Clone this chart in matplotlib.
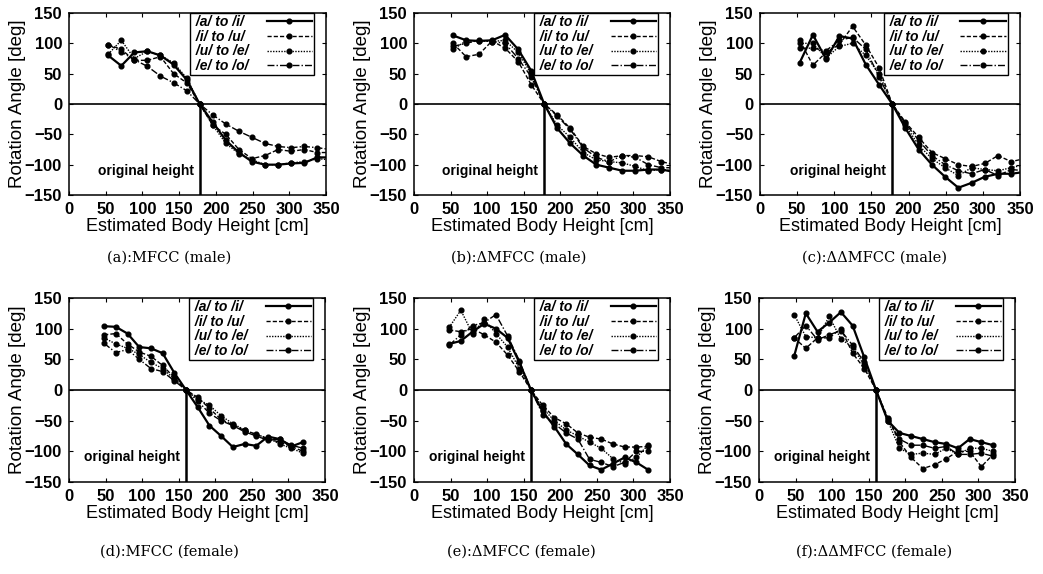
import matplotlib
matplotlib.use('Agg')
import matplotlib.pyplot as plt

# heights (cm) at which the rotation angle was evaluated
male_x = [53.4, 71.2, 89, 106.8, 124.6, 142.4, 160.2, 178, 195.8, 213.6,
          231.4, 249.2, 267, 284.8, 302.6, 320.4, 338.2, 356]
female_x = [48, 64, 80, 96, 112, 128, 144, 160, 176, 192,
            208, 224, 240, 256, 272, 288, 304, 320]
male_orig = 178
female_orig = 160

labels = ['/a/ to /i/', '/i/ to /u/', '/u/ to /e/', '/e/ to /o/']

# (a) MFCC male
a_ai = [80, 63, 85, 87, 80, 65, 40, 0, -30, -60, -80, -95, -100, -100, -98, -97, -88, -88]
a_iu = [98, 90, 72, 72, 78, 50, 35, 0, -35, -50, -75, -90, -85, -75, -78, -75, -80, -80]
a_ue = [82, 105, 75, 87, 80, 68, 43, 0, -35, -65, -82, -92, -100, -100, -97, -95, -90, -92]
a_eo = [98, 86, 73, 62, 46, 35, 22, 0, -18, -33, -45, -55, -65, -70, -72, -70, -72, -75]

# (b) delta MFCC male
b_ai = [113, 105, 104, 105, 114, 90, 55, 0, -40, -65, -85, -100, -105, -110, -110, -108, -108, -112]
b_iu = [100, 78, 82, 104, 92, 70, 32, 0, -18, -40, -70, -82, -88, -85, -85, -87, -95, -100]
b_ue = [90, 104, 104, 103, 105, 85, 50, 0, -35, -55, -80, -92, -95, -97, -103, -110, -108, -110]
b_eo = [95, 100, 105, 103, 100, 75, 45, 0, -20, -42, -72, -88, -95, -85, -88, -100, -105, -105]

# (c) delta-delta MFCC male
c_ai = [68, 114, 74, 112, 108, 65, 32, 0, -40, -75, -100, -120, -138, -130, -120, -115, -115, -112]
c_iu = [105, 64, 85, 98, 128, 97, 60, 0, -30, -55, -80, -90, -100, -103, -98, -85, -95, -90]
c_ue = [100, 100, 76, 95, 100, 80, 50, 0, -35, -68, -90, -105, -118, -105, -108, -110, -105, -100]
c_eo = [92, 92, 88, 105, 110, 90, 45, 0, -32, -60, -85, -100, -110, -115, -108, -118, -108, -110]

# (d) MFCC female
d_ai = [104, 103, 92, 70, 68, 60, 28, 0, -28, -58, -75, -93, -88, -91, -76, -80, -92, -85]
d_iu = [90, 92, 75, 62, 55, 40, 20, 0, -12, -30, -48, -57, -66, -72, -80, -85, -92, -100]
d_ue = [85, 75, 68, 58, 45, 35, 18, 0, -15, -25, -42, -55, -65, -73, -78, -88, -95, -103]
d_eo = [76, 61, 66, 50, 35, 30, 15, 0, -18, -38, -50, -58, -68, -75, -82, -80, -90, -95]

# (e) delta MFCC female
e_ai = [75, 80, 95, 108, 100, 85, 45, 0, -35, -60, -88, -105, -123, -130, -120, -110, -118, -130]
e_iu = [98, 95, 100, 90, 78, 57, 30, 0, -25, -45, -55, -70, -77, -80, -88, -93, -93, -92]
e_ue = [102, 130, 92, 115, 92, 70, 35, 0, -30, -50, -65, -75, -85, -95, -112, -120, -110, -90]
e_eo = [73, 90, 105, 110, 123, 88, 48, 0, -40, -55, -70, -80, -113, -118, -125, -118, -100, -100]

# (f) delta-delta MFCC female
f_ai = [55, 125, 95, 110, 127, 105, 53, 0, -50, -70, -75, -80, -85, -88, -95, -80, -85, -90]
f_iu = [85, 68, 85, 85, 100, 60, 35, 0, -45, -85, -110, -128, -122, -112, -100, -100, -125, -105]
f_ue = [123, 87, 85, 120, 83, 70, 40, 0, -50, -95, -105, -103, -105, -95, -105, -95, -95, -100]
f_eo = [85, 105, 82, 90, 97, 73, 45, 0, -48, -80, -90, -90, -95, -92, -105, -105, -103, -108]

panels = [
    ('(a):MFCC (male)', male_x, male_orig, [a_ai, a_iu, a_ue, a_eo]),
    ('(b):\u0394MFCC (male)', male_x, male_orig, [b_ai, b_iu, b_ue, b_eo]),
    ('(c):\u0394\u0394MFCC (male)', male_x, male_orig, [c_ai, c_iu, c_ue, c_eo]),
    ('(d):MFCC (female)', female_x, female_orig, [d_ai, d_iu, d_ue, d_eo]),
    ('(e):\u0394MFCC (female)', female_x, female_orig, [e_ai, e_iu, e_ue, e_eo]),
    ('(f):\u0394\u0394MFCC (female)', female_x, female_orig, [f_ai, f_iu, f_ue, f_eo]),
]

styles = [
    dict(linestyle='-', linewidth=1.6),
    dict(linestyle=(0, (3, 1.5)), linewidth=1.0),
    dict(linestyle=(0, (1, 1)), linewidth=1.0),
    dict(linestyle=(0, (5, 1.5, 1, 1.5)), linewidth=1.0),
]

plt.rcParams['font.family'] = ['Liberation Sans', 'DejaVu Sans']

W, H = 1043, 574
fig = plt.figure(figsize=(W / 100, H / 100), dpi=100)

# axes boxes in pixels: left, right, top, bottom
boxes = [
    (69, 326, 13, 195), (414, 670, 13, 195), (760, 1020, 13, 195),
    (69, 325, 298, 482), (414, 670, 298, 482), (759, 1015, 298, 482),
]
caption_pos = [(169, 258), (519, 258), (874, 258), (169, 552), (521, 552), (874, 552)]

legends = []
for (title, xs, orig, series), (l, r, t, b), (cx, cy) in zip(panels, boxes, caption_pos):
    ax = fig.add_axes([l / W, 1 - b / H, (r - l) / W, (b - t) / H])
    for ys, lab, st in zip(series, labels, styles):
        ax.plot(xs, ys, color='black', marker='o', markersize=3.4, label=' ' + lab, **st)
    ax.axhline(0, color='black', linewidth=1.2)
    ax.plot([orig, orig], [-150, 0], color='black', linewidth=1.8)
    ax.text(orig - 8, -110, 'original height', ha='right', va='center',
            fontsize=10, fontweight='bold')
    ax.set_xlim(0, 350)
    ax.set_ylim(-150, 150)
    ax.set_xticks(range(0, 351, 50))
    ax.set_yticks(range(-150, 151, 50))
    ax.tick_params(direction='in', length=3, top=True, right=True,
                   labelsize=12, pad=5)
    for lbl in ax.get_xticklabels() + ax.get_yticklabels():
        lbl.set_fontweight('bold')
    for sp in ax.spines.values():
        sp.set_linewidth(1.1)
    ax.set_xlabel('Estimated Body Height [cm]', fontsize=13, labelpad=1)
    ax.set_ylabel('Rotation Angle [deg]', fontsize=13.5, labelpad=-1)
    # gnuplot-style key: text first, sample line after it
    leg = ax.legend(loc='upper right', markerfirst=False, numpoints=1,
                    handlelength=3.3, handletextpad=1.3, borderpad=0.15,
                    labelspacing=0.05, fancybox=False, framealpha=1,
                    edgecolor='black', borderaxespad=0.0,
                    bbox_to_anchor=(0.955, 1.0),
                    prop=dict(size=10, weight='bold', style='italic'))
    leg.get_frame().set_linewidth(1.0)
    legends.append(leg)
    fig.text(cx / W, 1 - cy / H, title, ha='center', va='center',
             fontsize=10.5, family='DejaVu Serif')

# left-align the key texts while keeping the sample lines lined up
fig.canvas.draw()
rend = fig.canvas.get_renderer()
for leg in legends:
    widths = [tx.get_window_extent(rend).width for tx in leg.get_texts()]
    col = leg._legend_handle_box.get_children()[0]
    col.align = 'left'
    for row, w in zip(col.get_children(), widths):
        row.sep += (max(widths) - w) * 72 / fig.dpi

fig.savefig('out.png', dpi=100)
